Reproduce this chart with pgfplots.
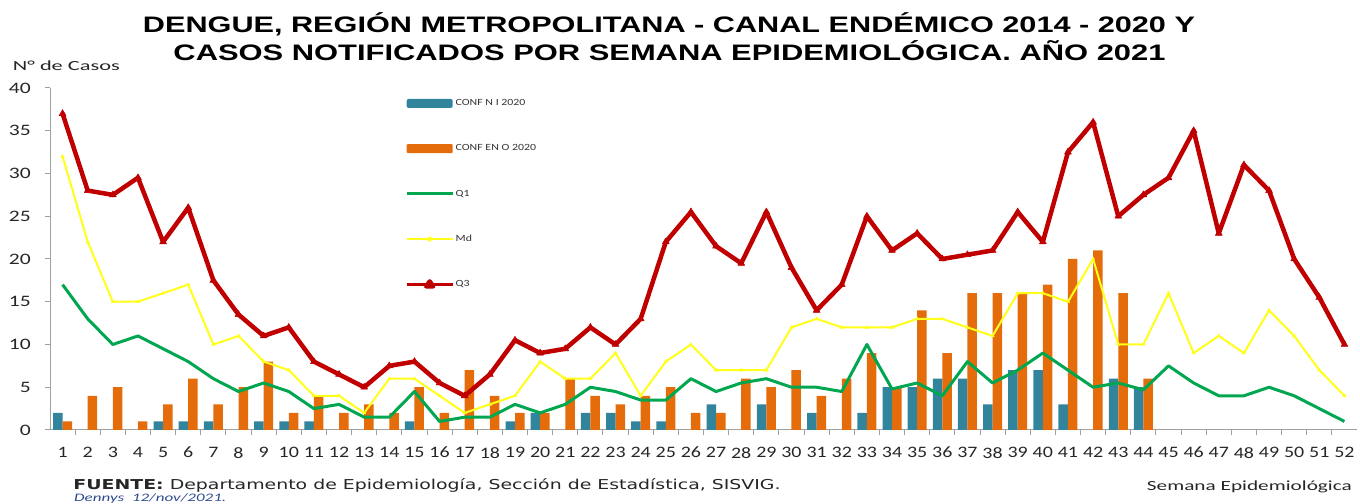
\documentclass[border=0pt]{standalone}
\usepackage{pgfplots}
\pgfplotsset{compat=1.18}
\usepackage{fontspec}
\usepackage{graphicx}
\setmainfont{Carlito}
\newfontfamily\arialfont{Liberation Sans}
\newfontfamily\dejavu{DejaVu Sans}

\definecolor{cBlue}{HTML}{31849B}
\definecolor{cOrange}{HTML}{E46C0A}
\definecolor{cGreen}{HTML}{00A650}
\definecolor{cYellow}{HTML}{FFFF1A}
\definecolor{cRed}{HTML}{C00000}
\definecolor{cAxis}{HTML}{A0A0A0}
\definecolor{cDennys}{HTML}{2F4B8F}

\begin{document}
\begin{tikzpicture}[x=1bp,y=1bp]
\useasboundingbox (0,0) rectangle (1360,504);
\begin{axis}[
  at={(50bp,74bp)}, anchor=south west,
  scale only axis, width=1307bp, height=342bp,
  xmin=0.5, xmax=52.5, ymin=0, ymax=40,
  axis lines*=left,
  axis line style={cAxis, line width=1bp},
  tick align=outside,
  major tick length=5bp, minor tick length=5bp,
  tick style={cAxis, line width=1bp},
  xtick={1,...,52}, minor x tick num=1,
  every major x tick/.append style={draw=none},
  ytick={0,5,...,40},
  /pgf/number format/assume math mode=true,
  yticklabel={\scalebox{1.35}[1]{\pgfmathprintnumber{\tick}}},
  xticklabel={\scalebox{1.25}[1]{\pgfmathprintnumber{\tick}}},
  tick label style={font=\fontsize{16}{16}\selectfont, text=black!85, inner sep=0pt},
  xticklabel style={anchor=north, yshift=-12bp},
  yticklabel style={anchor=east, xshift=-14bp},
  clip=false,
  legend cell align=left,
  legend style={at={(rel axis cs:0.2716,0.971)}, anchor=north west, draw=none, fill=none,
    font=\fontsize{9.5}{9.5}\selectfont, row sep=34.5bp, inner sep=0pt,
    nodes={inner sep=1.5bp, text=black!80}},
]
% CONF NI 2020
\addplot[ybar, bar width=9.5bp, bar shift=-4.75bp, fill=cBlue, draw=none,
  legend image code/.code={\fill[cBlue,rounded corners=2bp] (0bp,-4.5bp) rectangle (46bp,4.5bp);}]
  coordinates {(1,2) (5,1) (6,1) (7,1) (9,1) (10,1) (11,1) (15,1) (19,1) (20,2)
  (22,2) (23,2) (24,1) (25,1) (27,3) (29,3) (31,2) (33,2) (34,5) (35,5) (36,6)
  (37,6) (38,3) (39,7) (40,7) (41,3) (43,6) (44,5)};
\addlegendentry{\scalebox{1.25}[1]{CONF N I 2020}}
% CONF ENO 2020
\addplot[ybar, bar width=9.5bp, bar shift=4.75bp, fill=cOrange, draw=none,
  legend image code/.code={\fill[cOrange,rounded corners=1bp] (0bp,-4.5bp) rectangle (46bp,4.5bp);}]
  coordinates {(1,1) (2,4) (3,5) (4,1) (5,3) (6,6) (7,3) (8,5) (9,8) (10,2)
  (11,4) (12,2) (13,3) (14,2) (15,5) (16,2) (17,7) (18,4) (19,2) (20,2)
  (21,6) (22,4) (23,3) (24,4) (25,5) (26,2) (27,2) (28,6) (29,5) (30,7)
  (31,4) (32,6) (33,9) (34,5) (35,14) (36,9) (37,16) (38,16) (39,16) (40,17)
  (41,20) (42,21) (43,16) (44,6)};
\addlegendentry{\scalebox{1.25}[1]{CONF EN O 2020}}
% Q1
\addplot[cGreen, line width=3bp, no marks, line join=round,
  legend image code/.code={\draw[cGreen,line width=3bp] (0bp,0bp) -- (46bp,0bp);}]
  coordinates {(1,17) (2,13) (3,10) (4,11) (5,9.5) (6,8) (7,6) (8,4.5) (9,5.5) (10,4.5)
  (11,2.5) (12,3) (13,1.5) (14,1.5) (15,4.5) (16,1) (17,1.5) (18,1.5) (19,3) (20,2)
  (21,3) (22,5) (23,4.5) (24,3.5) (25,3.5) (26,6) (27,4.5) (28,5.5) (29,6) (30,5)
  (31,5) (32,4.5) (33,10) (34,4.8) (35,5.5) (36,4) (37,8) (38,5.5) (39,7) (40,9)
  (41,7) (42,5) (43,5.5) (44,4.7) (45,7.5) (46,5.5) (47,4) (48,4) (49,5) (50,4)
  (51,2.5) (52,1)};
\addlegendentry{\scalebox{1.25}[1]{Q1}}
% Md
\addplot[cYellow, line width=2bp, mark=triangle*, mark size=2bp, line join=round,
  mark options={fill=cYellow, line width=0.4bp},
  legend image code/.code={\draw[cYellow,line width=2bp] (0bp,0bp) -- (46bp,0bp); \fill[cYellow] (23bp,0bp) circle (1.8bp);}]
  coordinates {(1,32) (2,22) (3,15) (4,15) (5,16) (6,17) (7,10) (8,11) (9,8) (10,7)
  (11,4) (12,4) (13,2) (14,6) (15,6) (16,4) (17,2) (18,3) (19,4) (20,8)
  (21,6) (22,6) (23,9) (24,4) (25,8) (26,10) (27,7) (28,7) (29,7) (30,12)
  (31,13) (32,12) (33,12) (34,12) (35,13) (36,13) (37,12) (38,11) (39,16) (40,16)
  (41,15) (42,20) (43,10) (44,10) (45,16) (46,9) (47,11) (48,9) (49,14) (50,11)
  (51,7) (52,4)};
\addlegendentry{\scalebox{1.25}[1]{Md}}
% Q3
\addplot[cRed, line width=4.5bp, mark=triangle*, mark size=4bp, line join=round,
  mark options={fill=cRed, line width=0.5bp},
  legend image code/.code={\draw[cRed,line width=3bp] (0bp,0bp) -- (46bp,0bp); \fill[cRed] (23bp,3bp) -- (19.5bp,-2bp) -- (26.5bp,-2bp) -- cycle;}]
  coordinates {(1,37) (2,28) (3,27.5) (4,29.5) (5,22) (6,26) (7,17.5) (8,13.5) (9,11) (10,12)
  (11,8) (12,6.5) (13,5) (14,7.5) (15,8) (16,5.5) (17,4) (18,6.5) (19,10.5) (20,9)
  (21,9.5) (22,12) (23,10) (24,13) (25,22) (26,25.5) (27,21.5) (28,19.5) (29,25.5) (30,19)
  (31,14) (32,17) (33,25) (34,21) (35,23) (36,20) (37,20.5) (38,21) (39,25.5) (40,22)
  (41,32.5) (42,36) (43,25) (44,27.5) (45,29.5) (46,35) (47,23) (48,31) (49,28) (50,20)
  (51,15.5) (52,10)};
\addlegendentry{\scalebox{1.25}[1]{Q3}}
\end{axis}
% titles
\node[anchor=base, inner sep=0pt] at (669,471)
  {\resizebox{1052bp}{\height}{\fontsize{22.5}{22.5}\selectfont\arialfont\bfseries DENGUE, REGIÓN METROPOLITANA - CANAL ENDÉMICO 2014 - 2020 Y}};
\node[anchor=base, inner sep=0pt] at (669.5,443)
  {\resizebox{992bp}{\height}{\fontsize{22.5}{22.5}\selectfont\arialfont\bfseries CASOS NOTIFICADOS POR SEMANA EPIDEMIOLÓGICA. AÑO 2021}};
\node[anchor=base west, inner sep=0pt] at (12.7,433.3)
  {\resizebox{107bp}{\height}{\fontsize{14}{14}\selectfont\color{black!85}N° de Casos}};
% footer
\node[anchor=base west, inner sep=0pt] at (73.3,14.7)
  {\resizebox{707bp}{\height}{\fontsize{13.7}{13.7}\selectfont\dejavu\color{black!85}\textbf{FUENTE:} Departamento de Epidemiología, Sección de Estadística, SISVIG.}};
\node[anchor=base west, inner sep=0pt] at (74,2.2)
  {\resizebox{152bp}{\height}{\fontsize{11.5}{11.5}\selectfont\itshape\color{cDennys}Dennys\ \ 12/nov/2021.}};
\node[anchor=base west, inner sep=0pt] at (1146.7,13.3)
  {\resizebox{205bp}{\height}{\fontsize{14}{14}\selectfont\color{black!85}Semana Epidemiológica}};
\end{tikzpicture}
\end{document}
